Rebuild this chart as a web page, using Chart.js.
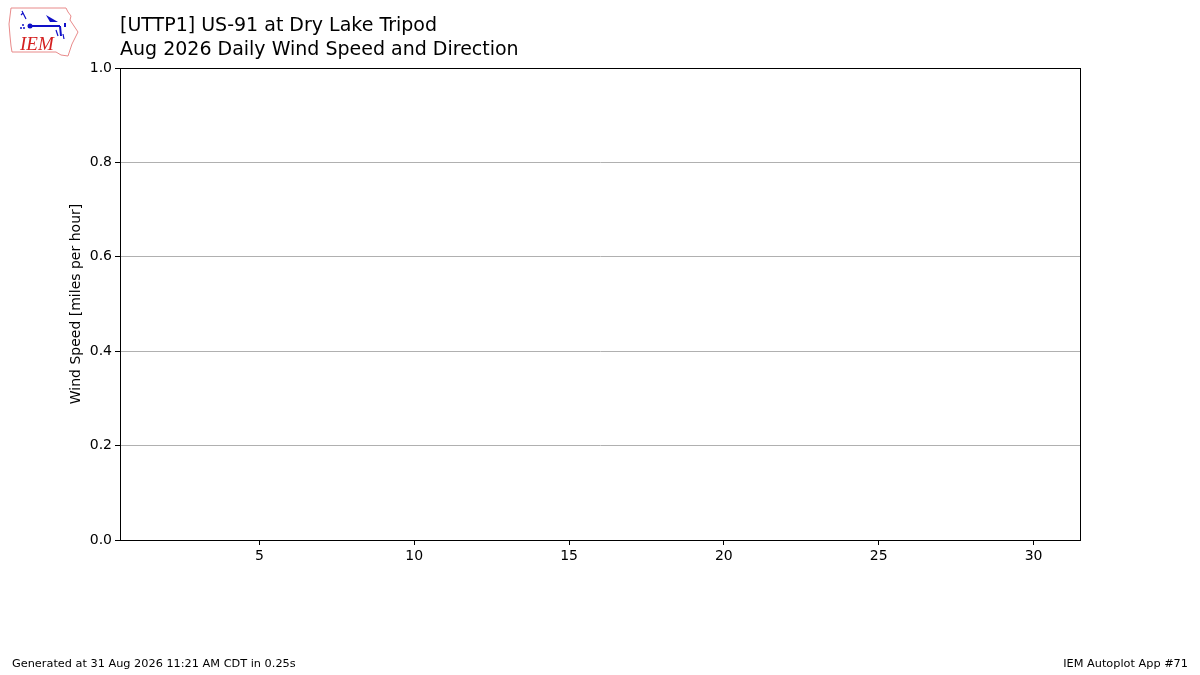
<!DOCTYPE html>
<html lang="en">

<head>
  <meta charset="UTF-8">
  <title>UTTP1 Daily Wind Speed and Direction</title>
  <style>
    body { margin: 0; background: #fff; font-family: "DejaVu Sans", sans-serif; }
    .pagina { position: relative; width: 1200px; height: 675px; overflow: hidden; }
    #grafico { position: absolute; left: 0; top: 0; }
    .titulo { position: absolute; left: 120px; top: 12px; font-size: 19px; line-height: 24px; color: #000; }
    .rodape { position: absolute; top: 657px; font-size: 11.3px; color: #000; }
    .logo { position: absolute; left: 8px; top: 6px; }
  </style>
</head>

<body>
  <div class="pagina">
    <canvas id="grafico" width="1200" height="675"></canvas>
    <svg class="logo" width="74" height="54" viewBox="0 0 74 54">
      <path d="M3 2 L58 2 L60 6 L63 10 L62 14 L66 20 L70 26 L67 32 L64 38 L62 44 L60 50 L53 49 L48 46 L4 46 L3 40 L2 30 L1 18 Z"
        fill="#fff" stroke="#e88a8a" stroke-width="1" />
      <path d="M22 20 L52 20 M52 20 L53 30 M57 17 L57 21" stroke="#1010c8" stroke-width="2" fill="none" />
      <path d="M38 9 L50 16 L42 16 Z" fill="#1010c8" />
      <circle cx="22" cy="20" r="2.5" fill="#1010c8" />
      <path d="M14 5 L18 13 M13 9 L15 7 M48 24 L50 30 M55 28 L56 33" stroke="#1010c8" stroke-width="1.2" fill="none" />
      <circle cx="15" cy="19" r="1" fill="#1010c8" />
      <circle cx="13" cy="22" r="1" fill="#1010c8" />
      <circle cx="16" cy="22" r="1" fill="#1010c8" />
      <text x="12" y="44" font-family="Liberation Serif, serif" font-style="italic" font-size="19" fill="#d42020">IEM</text>
    </svg>
    <div class="titulo">[UTTP1] US-91 at Dry Lake Tripod<br>Aug 2026 Daily Wind Speed and Direction</div>
    <div class="rodape" style="left: 12px;">Generated at 31 Aug 2026 11:21 AM CDT in 0.25s</div>
    <div class="rodape" style="right: 12px;">IEM Autoplot App #71</div>
  </div>
</body>

</html>
<script src="https://cdn.jsdelivr.net/npm/chart.js"></script>
<script>
  // dados do grafico (sem observacoes neste mes)
  const dias = [];
  const velocidades = [];
  const ticksX = [5, 10, 15, 20, 25, 30];
  const ticksY = [0, 0.2, 0.4, 0.6, 0.8, 1.0];

  // moldura completa em volta da area do grafico
  const moldura = {
    id: 'moldura',
    afterDraw(chart) {
      const { ctx, chartArea } = chart;
      ctx.save();
      ctx.strokeStyle = '#000';
      ctx.lineWidth = 1;
      ctx.strokeRect(chartArea.left + 0.5, chartArea.top + 0.5,
        chartArea.right - chartArea.left, chartArea.bottom - chartArea.top);
      ctx.restore();
    }
  };

  const ctx = document.getElementById('grafico').getContext('2d');
  new Chart(ctx, {
    type: 'scatter',
    data: {
      datasets: [{
        label: 'Wind Speed',
        data: dias.map((d, i) => ({ x: d, y: velocidades[i] })),
        backgroundColor: 'blue'
      }]
    },
    options: {
      responsive: false,
      animation: false,
      layout: { padding: { left: 65, top: 68, right: 120, bottom: 0 } },
      plugins: { legend: { display: false }, tooltip: { enabled: false } },
      scales: {
        x: {
          type: 'linear',
          min: 0.5,
          max: 31.5,
          afterBuildTicks: (s) => { s.ticks = ticksX.map(v => ({ value: v })); },
          afterFit: (s) => { s.height = 135; },
          grid: { drawOnChartArea: false, drawTicks: true, tickLength: 5, tickColor: '#000' },
          border: { display: true, color: '#000' },
          ticks: { color: '#000', font: { family: 'DejaVu Sans', size: 14 }, padding: 3, maxRotation: 0 }
        },
        y: {
          min: 0,
          max: 1,
          afterBuildTicks: (s) => { s.ticks = ticksY.map(v => ({ value: v })); },
          afterFit: (s) => { s.width = 55; },
          grid: { color: '#b0b0b0', drawTicks: true, tickLength: 5, tickColor: '#000' },
          border: { display: true, color: '#000' },
          ticks: {
            color: '#000', font: { family: 'DejaVu Sans', size: 14 }, padding: 3,
            callback: (v) => Number(v).toFixed(1)
          },
          title: {
            display: true,
            text: 'Wind Speed [miles per hour]',
            color: '#000',
            font: { family: 'DejaVu Sans', size: 14 },
            padding: 3
          }
        }
      }
    },
    plugins: [moldura]
  });
</script>
